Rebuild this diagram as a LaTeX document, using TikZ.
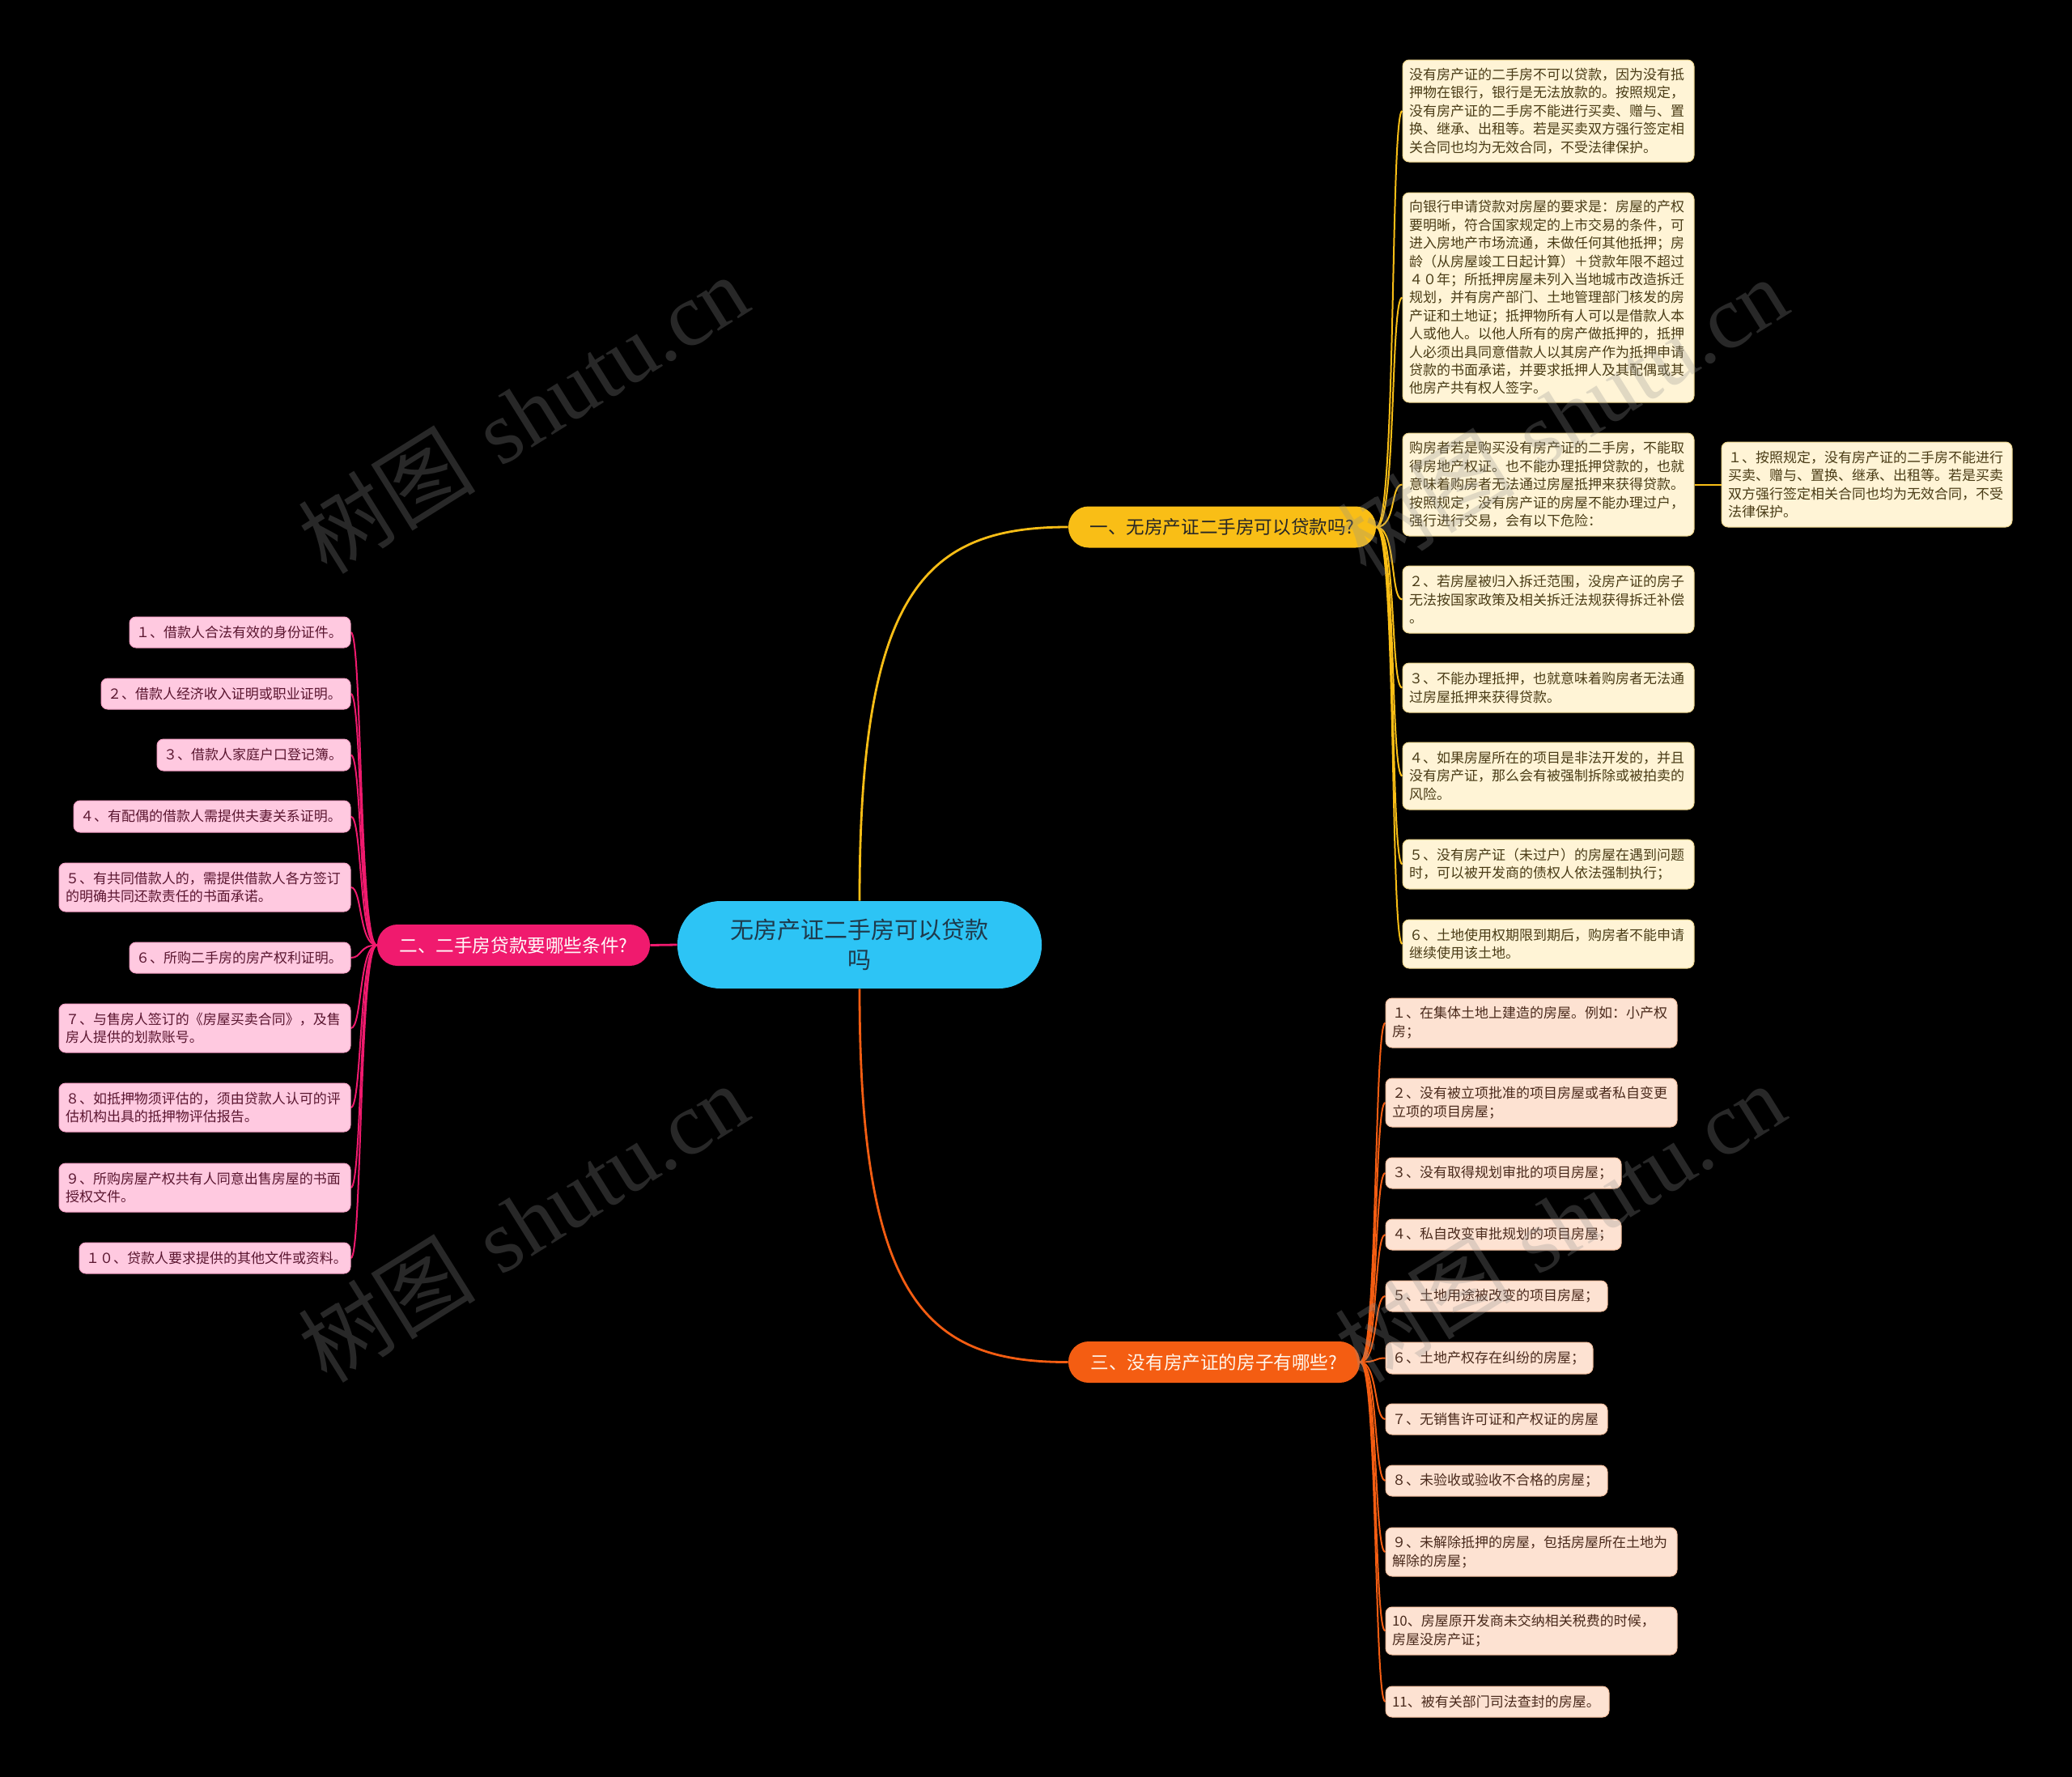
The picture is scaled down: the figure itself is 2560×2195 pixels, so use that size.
\documentclass[tikz,border=0pt]{standalone}
\usepackage{fontspec}
\newfontfamily\cjk{Noto Sans CJK SC}
\newfontfamily\wmserif{Liberation Serif}
\definecolor{cblue}{HTML}{2DC4F5}
\definecolor{cyellow}{HTML}{F9BE16}
\definecolor{cpink}{HTML}{F01A6E}
\definecolor{corange}{HTML}{F45D12}
\definecolor{yfill}{HTML}{FFF4D6}
\definecolor{ydraw}{HTML}{EBD38A}
\definecolor{ytext}{HTML}{4A3C16}
\definecolor{ofill}{HTML}{FDE2D2}
\definecolor{odraw}{HTML}{F2BC9C}
\definecolor{otext}{HTML}{4A2A1C}
\definecolor{pfill}{HTML}{FFC9E0}
\definecolor{pdraw}{HTML}{F5A0C4}
\definecolor{ptext}{HTML}{5A1630}
\definecolor{ctext}{HTML}{1E3A4C}
\definecolor{wmgray}{HTML}{909090}
\pgfdeclarelayer{bg}
\pgfdeclarelayer{edges}
\pgfsetlayers{bg,edges,main}
\tikzset{
  leafbase/.style={rounded corners=4pt, inner xsep=4pt, inner ysep=2pt, align=left, line width=0.5pt, font=\cjk\fontsize{8.5pt}{11.2pt}\selectfont},
  yleaf/.style={leafbase, fill=yfill, draw=ydraw, text=ytext},
  oleaf/.style={leafbase, fill=ofill, draw=odraw, text=otext, font=\cjk\fontsize{8.5pt}{11.6pt}\selectfont},
  pleaf/.style={leafbase, fill=pfill, draw=pdraw, text=ptext},
  branchbox/.style={rounded corners=12.5pt, minimum height=25.5pt, inner sep=0pt, font=\cjk\fontsize{11.3pt}{13pt}\selectfont},
  rootbox/.style={rounded corners=26.5pt, minimum height=54pt, minimum width=225pt, inner sep=0pt, fill=cblue, text=ctext, align=center, font=\cjk\fontsize{14.5pt}{18.5pt}\selectfont},
  yline/.style={draw=cyellow, line width=1pt},
  oline/.style={draw=corange, line width=1pt},
  pline/.style={draw=cpink, line width=1pt},
  mainline/.style={line width=1.4pt},
  wmark/.style={rotate=32, text=wmgray, opacity=0.28, inner sep=0pt, font=\fontsize{55pt}{55pt}\selectfont}
}
\newcommand\mkleaf[7]{%
  \pgfmathsetmacro\lcx{(#3+#5)/2}%
  \pgfmathsetmacro\lcy{(#4+#6)/2}%
  \pgfmathsetmacro\lw{(#5-#3)*0.5}%
  \pgfmathsetmacro\lh{(#6-#4)*0.5}%
  \pgfmathsetmacro\ltw{(#5-#3)*0.5-8}%
  \node[#1, minimum width=\lw pt, minimum height=\lh pt, text width=\ltw pt] (#2) at (\lcx,\lcy) {#7};%
}
\begin{document}
\begin{tikzpicture}[x=0.5pt,y=-0.5pt]
\begin{pgfonlayer}{bg}
\fill[black] (0,0) rectangle (2560,2195);
\end{pgfonlayer}

% root and branches
\node[rootbox] (root) at (1062,1167) {无房产证二手房可以贷款\\吗};
\node[branchbox, fill=cyellow, text=black!85, minimum width=190pt] (b1) at (1510,651) {一、无房产证二手房可以贷款吗?};
\node[branchbox, fill=cpink, text=white!92!pink, minimum width=168.5pt] (b2) at (634.5,1167.5) {二、二手房贷款要哪些条件?};
\node[branchbox, fill=corange, text=white!92!orange, minimum width=180pt] (b3) at (1500,1682.5) {三、没有房产证的房子有哪些?};

% yellow leaves
\mkleaf{yleaf}{y1}{1733}{74}{2093}{200}{没有房产证的二手房不可以贷款，因为没有抵\\押物在银行，银行是无法放款的。按照规定，\\没有房产证的二手房不能进行买卖、赠与、置\\换、继承、出租等。若是买卖双方强行签定相\\关合同也均为无效合同，不受法律保护。}
\mkleaf{yleaf}{y2}{1733}{238}{2093}{497}{向银行申请贷款对房屋的要求是：房屋的产权\\要明晰，符合国家规定的上市交易的条件，可\\进入房地产市场流通，未做任何其他抵押；房\\龄（从房屋竣工日起计算）＋贷款年限不超过\\４０年；所抵押房屋未列入当地城市改造拆迁\\规划，并有房产部门、土地管理部门核发的房\\产证和土地证；抵押物所有人可以是借款人本\\人或他人。以他人所有的房产做抵押的，抵押\\人必须出具同意借款人以其房产作为抵押申请\\贷款的书面承诺，并要求抵押人及其配偶或其\\他房产共有权人签字。}
\mkleaf{yleaf}{y3}{1733}{535}{2093}{662}{购房者若是购买没有房产证的二手房，不能取\\得房地产权证。也不能办理抵押贷款的，也就\\意味着购房者无法通过房屋抵押来获得贷款。\\按照规定，没有房产证的房屋不能办理过户，\\强行进行交易，会有以下危险：}
\mkleaf{yleaf}{yr}{2127}{546}{2486}{651}{１、按照规定，没有房产证的二手房不能进行\\买卖、赠与、置换、继承、出租等。若是买卖\\双方强行签定相关合同也均为无效合同，不受\\法律保护。}
\mkleaf{yleaf}{y4}{1733}{699}{2093}{782}{２、若房屋被归入拆迁范围，没房产证的房子\\无法按国家政策及相关拆迁法规获得拆迁补偿\\。}
\mkleaf{yleaf}{y5}{1733}{819}{2093}{880}{３、不能办理抵押，也就意味着购房者无法通\\过房屋抵押来获得贷款。}
\mkleaf{yleaf}{y6}{1733}{917}{2093}{1000}{４、如果房屋所在的项目是非法开发的，并且\\没有房产证，那么会有被强制拆除或被拍卖的\\风险。}
\mkleaf{yleaf}{y7}{1733}{1037}{2093}{1098}{５、没有房产证（未过户）的房屋在遇到问题\\时，可以被开发商的债权人依法强制执行；}
\mkleaf{yleaf}{y8}{1733}{1136}{2093}{1196}{６、土地使用权期限到期后，购房者不能申请\\继续使用该土地。}

% orange leaves
\mkleaf{oleaf}{o1}{1712}{1233}{2072}{1294}{１、在集体土地上建造的房屋。例如：小产权\\房；}
\mkleaf{oleaf}{o2}{1712}{1332}{2072}{1392}{２、没有被立项批准的项目房屋或者私自变更\\立项的项目房屋；}
\mkleaf{oleaf}{o3}{1712}{1430}{2003}{1468}{３、没有取得规划审批的项目房屋；}
\mkleaf{oleaf}{o4}{1712}{1506}{2003}{1544}{４、私自改变审批规划的项目房屋；}
\mkleaf{oleaf}{o5}{1712}{1582}{1986}{1620}{５、土地用途被改变的项目房屋；}
\mkleaf{oleaf}{o6}{1712}{1658}{1968}{1697}{６、土地产权存在纠纷的房屋；}
\mkleaf{oleaf}{o7}{1712}{1734}{1986}{1772}{７、无销售许可证和产权证的房屋}
\mkleaf{oleaf}{o8}{1712}{1810}{1986}{1848}{８、未验收或验收不合格的房屋；}
\mkleaf{oleaf}{o9}{1712}{1887}{2072}{1947}{９、未解除抵押的房屋，包括房屋所在土地为\\解除的房屋；}
\mkleaf{oleaf}{o10}{1712}{1985}{2072}{2044}{10、房屋原开发商未交纳相关税费的时候，\\房屋没房产证；}
\mkleaf{oleaf}{o11}{1712}{2083}{1988}{2121}{11、被有关部门司法查封的房屋。}

% pink leaves
\mkleaf{pleaf}{p1}{160}{762}{433}{800}{１、借款人合法有效的身份证件。}
\mkleaf{pleaf}{p2}{125}{838}{433}{876}{２、借款人经济收入证明或职业证明。}
\mkleaf{pleaf}{p3}{194}{913}{433}{952}{３、借款人家庭户口登记簿。}
\mkleaf{pleaf}{p4}{91}{989}{433}{1028}{４、有配偶的借款人需提供夫妻关系证明。}
\mkleaf{pleaf}{p5}{73}{1066}{433}{1126}{５、有共同借款人的，需提供借款人各方签订\\的明确共同还款责任的书面承诺。}
\mkleaf{pleaf}{p6}{160}{1164}{433}{1202}{６、所购二手房的房产权利证明。}
\mkleaf{pleaf}{p7}{73}{1240}{433}{1300}{７、与售房人签订的《房屋买卖合同》，及售\\房人提供的划款账号。}
\mkleaf{pleaf}{p8}{73}{1338}{433}{1398}{８、如抵押物须评估的，须由贷款人认可的评\\估机构出具的抵押物评估报告。}
\mkleaf{pleaf}{p9}{73}{1437}{433}{1497}{９、所购房屋产权共有人同意出售房屋的书面\\授权文件。}
\mkleaf{pleaf}{p10}{98}{1535}{433}{1573}{１０、贷款人要求提供的其他文件或资料。}

% connectors
\begin{pgfonlayer}{edges}
\draw[mainline, draw=cyellow] (root.north) .. controls (1062,731) and (1142,651) .. (b1.west);
\draw[mainline, draw=corange] (root.south) .. controls (1062,1603) and (1142,1683) .. (b3.west);
\draw[mainline, draw=cpink] (root.west) -- (b2.east);
\foreach \n in {y1,y2,y3,y4,y5,y6,y7,y8}
  \draw[yline] (b1.east) .. controls +(25,0) and +(-15,0) .. (\n.west);
\draw[yline] (y3.east) -- (yr.west);
\foreach \n in {o1,o2,o3,o4,o5,o6,o7,o8,o9,o10,o11}
  \draw[oline] (b3.east) .. controls +(22,0) and +(-14,0) .. (\n.west);
\foreach \n in {p1,p2,p3,p4,p5,p6,p7,p8,p9,p10}
  \draw[pline] (b2.west) .. controls +(-22,0) and +(14,0) .. (\n.east);
\end{pgfonlayer}

% watermarks
\node[wmark] (wm1) at (646,511) {{\cjk 树图} {\wmserif shutu.cn}};
\node[wmark] (wm2) at (1930,514) {{\cjk 树图} {\wmserif shutu.cn}};
\node[wmark] (wm3) at (646,1510) {{\cjk 树图} {\wmserif shutu.cn}};
\node[wmark] (wm4) at (1927,1510) {{\cjk 树图} {\wmserif shutu.cn}};
\end{tikzpicture}
\end{document}
